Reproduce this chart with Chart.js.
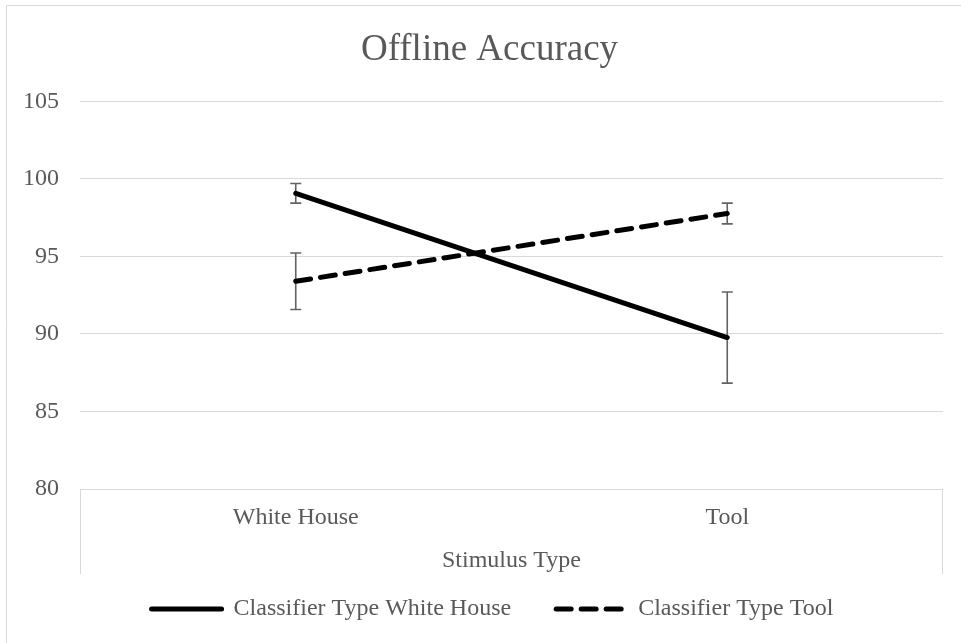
<!DOCTYPE html>
<html>
<head>
<meta charset="utf-8">
<script src="https://cdn.jsdelivr.net/npm/chart.js@4"></script>
<style>
  html, body { margin: 0; padding: 0; background: #ffffff; }
  #wrap { position: absolute; left: 0; top: 0; width: 961px; height: 643px; }
</style>
</head>
<body>
<div id="wrap"><canvas id="c" width="961" height="643"></canvas></div>
<script>
const chartTitle = 'Offline Accuracy';
const xAxisTitle = 'Stimulus Type';
const categories = ['White House', 'Tool'];
const seriesNames = ['Classifier Type White House', 'Classifier Type Tool'];
const whiteHouseValues = [99.07, 89.77];
const toolValues = [93.40, 97.77];
const whiteHouseErrors = [0.63, 2.94];
const toolErrors = [1.82, 0.67];
const yTicks = [80, 85, 90, 95, 100, 105];

const FONT = "'Liberation Serif', 'Times New Roman', serif";
const TEXT = '#595959';
const GRID = '#d9d9d9';

const errorBarPlugin = {
  id: 'errorBars',
  beforeDatasetsDraw(chart) {
    const ctx = chart.ctx;
    const y = chart.scales.y;
    const errs = [whiteHouseErrors, toolErrors];
    ctx.save();
    ctx.strokeStyle = '#636363';
    ctx.lineWidth = 1.6;
    chart.data.datasets.forEach((ds, di) => {
      const meta = chart.getDatasetMeta(di);
      meta.data.forEach((pt, i) => {
        const v = ds.data[i];
        const e = errs[di][i];
        const x = pt.x;
        const yt = y.getPixelForValue(v + e);
        const yb = y.getPixelForValue(v - e);
        ctx.beginPath();
        ctx.moveTo(x, yt); ctx.lineTo(x, yb);
        ctx.moveTo(x - 5.5, yt); ctx.lineTo(x + 5.5, yt);
        ctx.moveTo(x - 5.5, yb); ctx.lineTo(x + 5.5, yb);
        ctx.stroke();
      });
    });
    ctx.restore();
  }
};

const framePlugin = {
  id: 'frame',
  afterLayout(chart) {
    if (chart.legend) {
      chart.legend.left += 9;
      chart.legend.right += 9;
    }
    if (chart.titleBlock) {
      chart.titleBlock.left += 6;
      chart.titleBlock.right += 6;
    }
  },
  afterDraw(chart) {
    const ctx = chart.ctx;
    const a = chart.chartArea;
    ctx.save();
    ctx.strokeStyle = GRID;
    ctx.lineWidth = 1;
    ctx.beginPath();
    ctx.moveTo(6.5, 700); ctx.lineTo(6.5, 5.5); ctx.lineTo(1000, 5.5);
    ctx.stroke();
    const bottom = a.bottom + 85;
    ctx.beginPath();
    ctx.moveTo(Math.round(a.left) + 0.5, a.bottom); ctx.lineTo(Math.round(a.left) + 0.5, bottom);
    ctx.moveTo(Math.round(a.right) - 0.5, a.bottom); ctx.lineTo(Math.round(a.right) - 0.5, bottom);
    ctx.stroke();
    ctx.restore();
  }
};

new Chart(document.getElementById('c'), {
  type: 'line',
  data: {
    labels: categories,
    datasets: [
      {
        label: seriesNames[0],
        data: whiteHouseValues,
        borderColor: '#000000',
        backgroundColor: '#000000',
        borderWidth: 5,
        borderCapStyle: 'round',
        pointRadius: 0,
        pointHoverRadius: 0,
        pointStyle: 'line',
        tension: 0
      },
      {
        label: seriesNames[1],
        data: toolValues,
        borderColor: '#000000',
        backgroundColor: '#000000',
        borderWidth: 5,
        borderCapStyle: 'round',
        borderDash: [15, 10],
        pointRadius: 0,
        pointHoverRadius: 0,
        pointStyle: 'line',
        tension: 0
      }
    ]
  },
  options: {
    responsive: false,
    animation: false,
    devicePixelRatio: 1,
    layout: { padding: { left: 24, right: 18, top: 0, bottom: 12 } },
    plugins: {
      title: {
        display: true,
        text: chartTitle,
        color: TEXT,
        font: { family: FONT, size: 37, weight: 'normal' },
        padding: { top: 28, bottom: 29 }
      },
      legend: {
        display: true,
        position: 'bottom',
        labels: {
          usePointStyle: true,
          pointStyleWidth: 70,
          padding: 45,
          color: TEXT,
          font: { family: FONT, size: 24 },
          generateLabels(chart) {
            const items = Chart.defaults.plugins.legend.labels.generateLabels(chart);
            items.forEach(it => {
              const ds = chart.data.datasets[it.datasetIndex];
              it.lineDash = ds.borderDash || [];
              it.lineCap = 'round';
              it.lineWidth = ds.borderWidth;
              it.strokeStyle = ds.borderColor;
            });
            return items;
          }
        }
      },
      tooltip: { enabled: false }
    },
    scales: {
      x: {
        offset: true,
        grid: { display: false, drawTicks: false },
        border: { display: false },
        ticks: { color: TEXT, font: { family: FONT, size: 24 }, padding: 14, maxRotation: 0 },
        title: {
          display: true,
          text: xAxisTitle,
          color: TEXT,
          font: { family: FONT, size: 24 },
          padding: { top: 0, bottom: -23 }
        },
        afterFit(scale) { scale.height = 63; }
      },
      y: {
        min: 80,
        max: 105,
        afterBuildTicks(scale) { scale.ticks = yTicks.map(v => ({ value: v })); },
        grid: { color: GRID, lineWidth: 1, drawTicks: false },
        border: { display: false },
        ticks: { color: TEXT, font: { family: FONT, size: 24 }, padding: 21 },
        afterFit(scale) { scale.width = 56; }
      }
    }
  },
  plugins: [errorBarPlugin, framePlugin]
});
</script>
</body>
</html>
